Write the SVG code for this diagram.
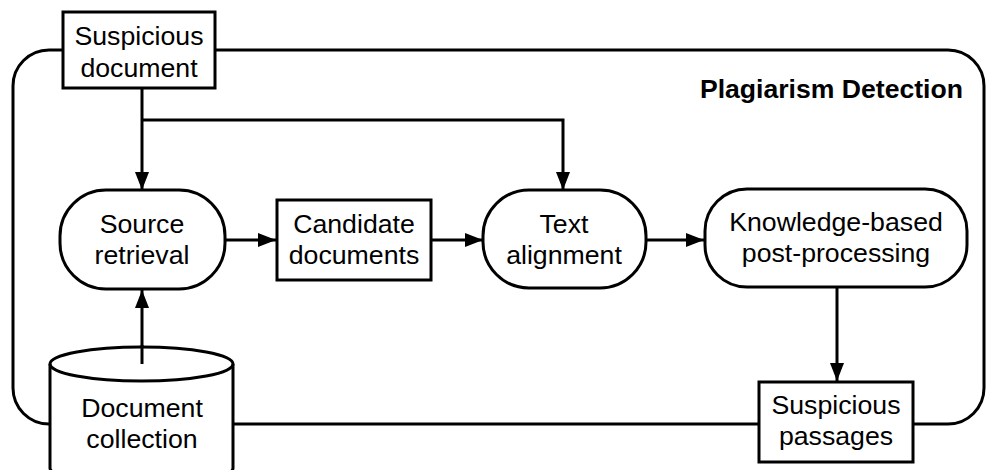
<svg xmlns="http://www.w3.org/2000/svg" width="987" height="470" viewBox="0 0 987 470">
<style>
.ln{fill:none;stroke:#000;stroke-width:3}
.nd{fill:#fff;stroke:#000;stroke-width:3}
.tx{font-family:"Liberation Sans",Arial,sans-serif;font-size:26.7px;fill:#000;text-anchor:middle}
.tt{font-family:"Liberation Sans",Arial,sans-serif;font-size:26.6px;font-weight:bold;fill:#000;text-anchor:end}
</style>
<defs>
<marker id="ah" viewBox="0 0 18 14" refX="18" refY="7" markerWidth="18" markerHeight="14" orient="auto" markerUnits="userSpaceOnUse"><path d="M0,0 L18,7 L0,14 z" fill="#000"/></marker>
</defs>
<rect width="987" height="470" fill="#fff"/>
<g id="boundary">
<rect class="ln" x="13" y="50" width="971" height="374" rx="36" ry="36"/>
<text class="tt" x="963" y="98">Plagiarism Detection</text>
</g>
<g id="connectors">
<path class="ln" d="M142,88 L142,190" marker-end="url(#ah)"/>
<path class="ln" d="M142,120 L563,120 L563,190" marker-end="url(#ah)"/>
<path class="ln" d="M225,240 L276,240" marker-end="url(#ah)"/>
<path class="ln" d="M431,240 L483,240" marker-end="url(#ah)"/>
<path class="ln" d="M646,240 L704,240" marker-end="url(#ah)"/>
<path class="ln" d="M837,288 L837,381" marker-end="url(#ah)"/>
<path class="ln" d="M142,364 L142,290" marker-end="url(#ah)"/>
</g>
<g id="suspicious-document">
<rect class="nd" x="63" y="12" width="152" height="76"/>
<text class="tx" x="139" y="45">Suspicious</text>
<text class="tx" x="139" y="77">document</text>
</g>
<g id="source-retrieval">
<rect class="nd" x="60" y="190" width="165" height="99" rx="46" ry="46"/>
<text class="tx" x="142" y="233">Source</text>
<text class="tx" x="142" y="264">retrieval</text>
</g>
<g id="candidate-documents">
<rect class="nd" x="277" y="200" width="154" height="80"/>
<text class="tx" x="354" y="233">Candidate</text>
<text class="tx" x="354" y="264">documents</text>
</g>
<g id="text-alignment">
<rect class="nd" x="483" y="190" width="163" height="98" rx="46" ry="46"/>
<text class="tx" x="564" y="233">Text</text>
<text class="tx" x="564" y="264">alignment</text>
</g>
<g id="knowledge-based">
<rect class="nd" x="705" y="189" width="262" height="98" rx="42" ry="42"/>
<text class="tx" x="836" y="231">Knowledge-based</text>
<text class="tx" x="836" y="262">post-processing</text>
</g>
<g id="suspicious-passages">
<rect class="nd" x="759" y="382" width="154" height="80"/>
<text class="tx" x="836" y="414">Suspicious</text>
<text class="tx" x="836" y="445">passages</text>
</g>
<g id="document-collection">
<path class="nd" d="M50,364 L50,468 A91.5,17 0 0 0 233,468 L233,364 A91.5,17 0 0 0 50,364 Z"/>
<path class="ln" d="M50,364 A91.5,17 0 0 0 233,364"/>
<path class="ln" d="M142,364 L142,345"/>
<text class="tx" x="142" y="417">Document</text>
<text class="tx" x="142" y="448">collection</text>
</g>
</svg>
